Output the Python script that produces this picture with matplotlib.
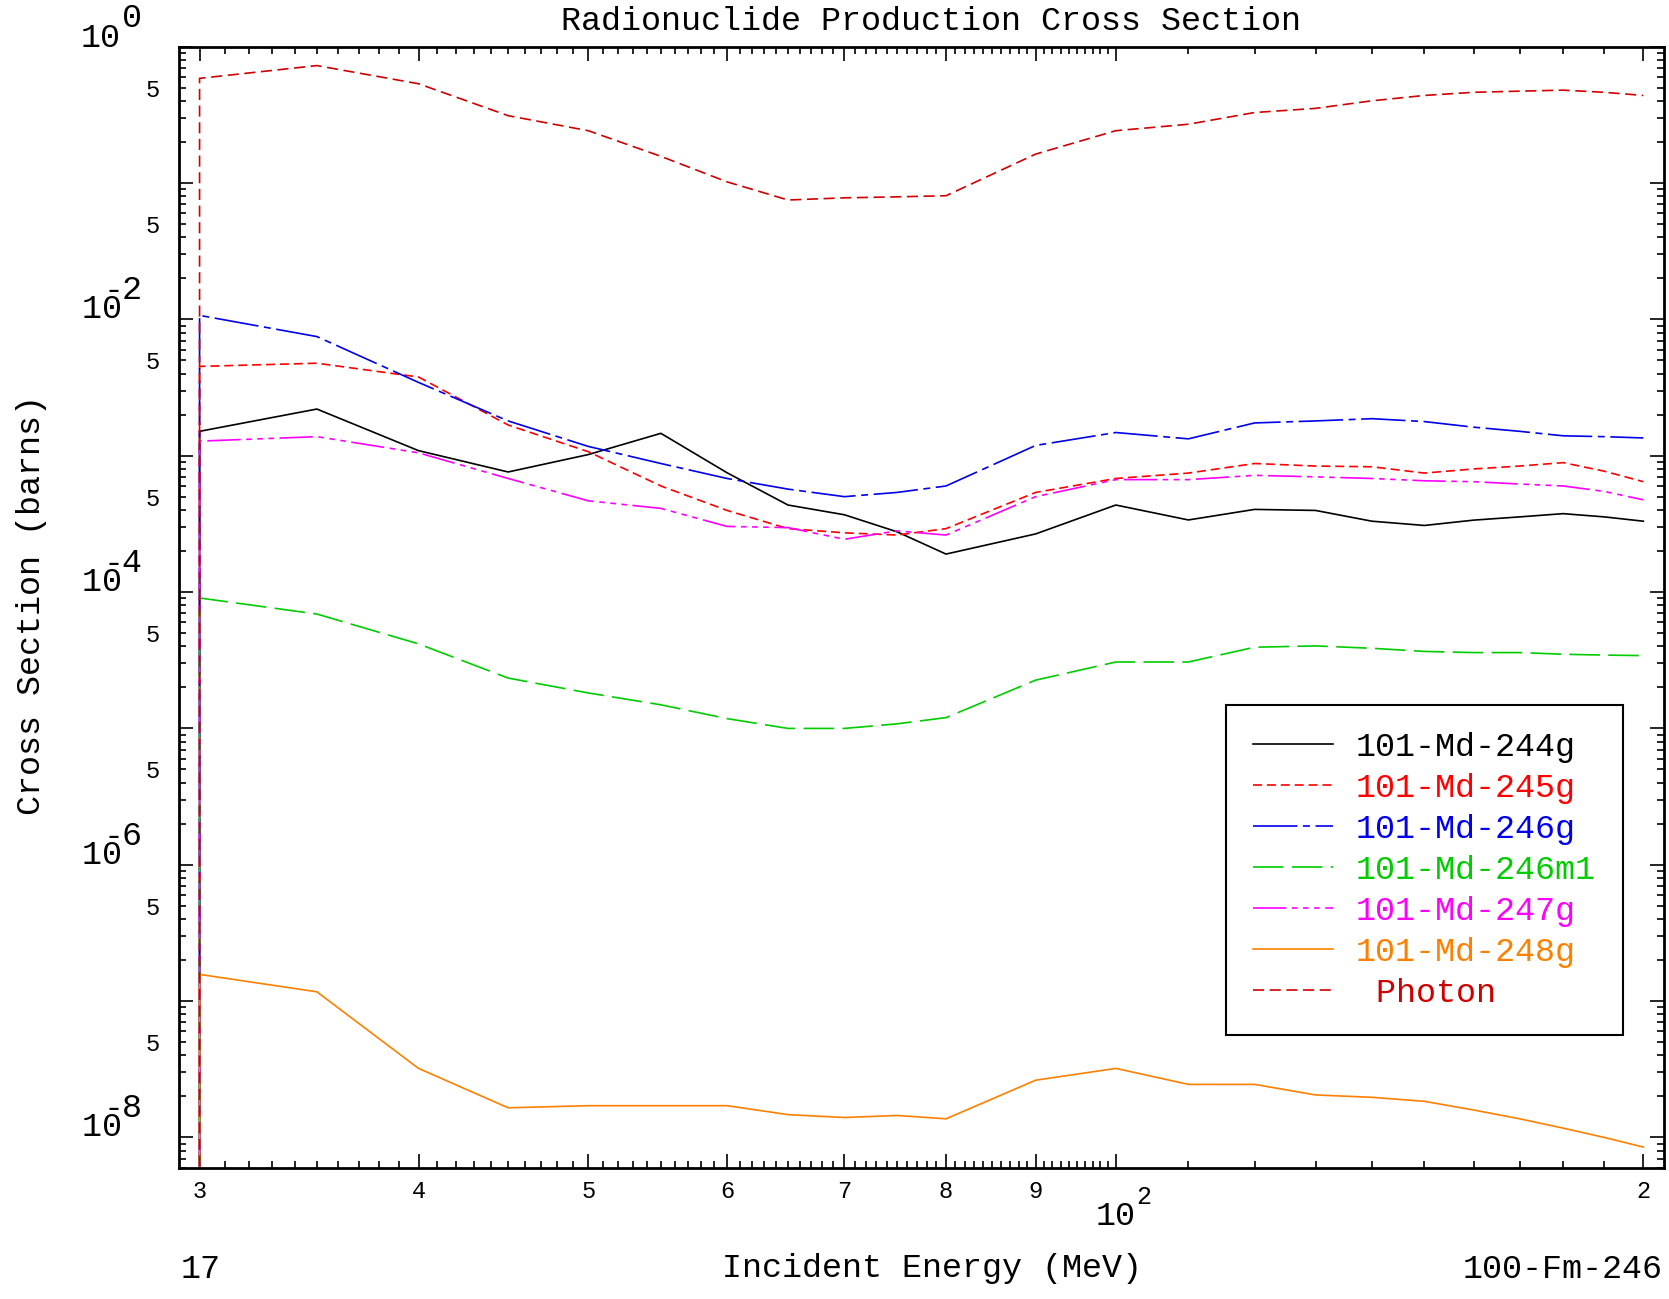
import matplotlib
matplotlib.use('Agg')
import numpy as np
import matplotlib.pyplot as plt
import matplotlib.transforms as mtransforms
from matplotlib.ticker import FixedLocator, NullFormatter, LogLocator, FuncFormatter

plt.rcParams['font.family'] = ['Liberation Mono', 'DejaVu Sans Mono']
plt.rcParams['lines.scale_dashes'] = False

# energias (MeV) y umbral de la reaccion
umbral = 30.0
umbral_xs = 1e-12
energia = [30, 35, 40, 45, 50, 55, 60, 65, 70, 75, 80, 90, 100,
           110, 120, 130, 140, 150, 160, 170, 180, 190, 200]

md244g = [1.51e-3, 2.20e-3, 1.09e-3, 7.6e-4, 1.02e-3, 1.46e-3, 7.5e-4, 4.35e-4,
          3.69e-4, 2.77e-4, 1.90e-4, 2.67e-4, 4.35e-4, 3.38e-4, 4.04e-4, 3.97e-4,
          3.31e-4, 3.08e-4, 3.37e-4, 3.56e-4, 3.76e-4, 3.56e-4, 3.31e-4]
md245g = [4.52e-3, 4.77e-3, 3.78e-3, 1.68e-3, 1.07e-3, 6.0e-4, 3.97e-4, 2.92e-4,
          2.72e-4, 2.62e-4, 2.92e-4, 5.38e-4, 6.81e-4, 7.46e-4, 8.77e-4, 8.4e-4,
          8.3e-4, 7.46e-4, 8.0e-4, 8.4e-4, 8.9e-4, 7.7e-4, 6.45e-4]
md246g = [1.07e-2, 7.48e-3, 3.45e-3, 1.80e-3, 1.17e-3, 8.77e-4, 6.81e-4, 5.69e-4,
          5.01e-4, 5.38e-4, 6.0e-4, 1.19e-3, 1.48e-3, 1.33e-3, 1.74e-3, 1.80e-3,
          1.87e-3, 1.78e-3, 1.62e-3, 1.51e-3, 1.40e-3, 1.38e-3, 1.35e-3]
md246m1 = [9.05e-5, 6.9e-5, 4.17e-5, 2.34e-5, 1.82e-5, 1.49e-5, 1.18e-5, 1.00e-5,
           1.00e-5, 1.08e-5, 1.20e-5, 2.26e-5, 3.07e-5, 3.07e-5, 3.94e-5, 4.03e-5,
           3.87e-5, 3.67e-5, 3.6e-5, 3.6e-5, 3.5e-5, 3.45e-5, 3.42e-5]
md247g = [1.28e-3, 1.38e-3, 1.05e-3, 6.81e-4, 4.67e-4, 4.11e-4, 3.03e-4, 2.97e-4,
          2.44e-4, 2.81e-4, 2.62e-4, 5.01e-4, 6.68e-4, 6.68e-4, 7.18e-4, 7.0e-4,
          6.81e-4, 6.55e-4, 6.45e-4, 6.2e-4, 6.0e-4, 5.47e-4, 4.75e-4]
md248g = [1.57e-7, 1.17e-7, 3.21e-8, 1.65e-8, 1.71e-8, 1.71e-8, 1.71e-8, 1.47e-8,
          1.40e-8, 1.45e-8, 1.37e-8, 2.63e-8, 3.21e-8, 2.45e-8, 2.45e-8, 2.05e-8,
          1.97e-8, 1.84e-8, 1.59e-8, 1.37e-8, 1.17e-8, 1.0e-8, 8.5e-9]
foton = [0.586, 0.727, 0.535, 0.312, 0.242, 0.157, 0.102, 0.0751, 0.0779, 0.0792,
         0.0807, 0.163, 0.242, 0.270, 0.329, 0.353, 0.401, 0.439, 0.463, 0.472,
         0.480, 0.463, 0.439]

series = [
    ('101-Md-244g', md244g, 'black', '-'),
    ('101-Md-245g', md245g, '#ff0000', (0, (6.5, 3.5))),
    ('101-Md-246g', md246g, '#0000ee', (0, (32, 4, 5, 4))),
    ('101-Md-246m1', md246m1, '#00cc00', (0, (22, 6))),
    ('101-Md-247g', md247g, '#ff00ff', (0, (24, 4, 4, 4, 4, 4, 4, 4))),
    ('101-Md-248g', md248g, '#ff8000', '-'),
    (' Photon', foton, '#d00000', (0, (8, 4))),
]

W, H = 1669, 1299
fig = plt.figure(figsize=(W / 100, H / 100), dpi=100)
x0, x1, ytop, ybot = 179, 1664, 46.7, 1167.7
ax = fig.add_axes([x0 / W, 1 - ybot / H, (x1 - x0) / W, (ybot - ytop) / H])
ax.set_xscale('log')
ax.set_yscale('log')

for nombre, valores, color, estilo in series:
    xs = [umbral] + energia
    ys = [umbral_xs] + valores
    ax.plot(xs, ys, color=color, linestyle=estilo, lw=1.2, label=nombre)

ymin, ymax = 6e-9, 1.0
ax.set_xlim(29.2, 205.5)
ax.set_ylim(ymin, ymax)

# eje x
ticks_x = [30, 40, 50, 60, 70, 80, 90, 100, 200]
etiquetas_x = ['3', '4', '5', '6', '7', '8', '9', '', '2']
menores_x = [v for v in range(31, 100) if v % 10 != 0] + list(range(110, 200, 10))
ax.xaxis.set_major_locator(FixedLocator(ticks_x))
ax.xaxis.set_minor_locator(FixedLocator(menores_x))
ax.set_xticklabels(etiquetas_x)
ax.xaxis.set_minor_formatter(NullFormatter())

# eje y
ax.yaxis.set_major_locator(LogLocator(base=10, numticks=20))
ax.yaxis.set_minor_locator(LogLocator(base=10, subs=np.arange(2, 10), numticks=20))
ax.yaxis.set_major_formatter(NullFormatter())

def etiqueta_cinco(v, pos):
    if v < ymin or v > ymax:
        return ''
    m = v / 10 ** np.floor(np.log10(v) + 1e-9)
    return '5' if abs(m - 5) < 0.05 else ''

ax.yaxis.set_minor_formatter(FuncFormatter(etiqueta_cinco))

ax.tick_params(which='both', direction='in', top=True, right=True, width=1.2)
ax.tick_params(which='major', length=10)
ax.tick_params(which='minor', length=5)
ax.tick_params(axis='x', which='major', labelsize=17, pad=9)
ax.tick_params(axis='y', which='minor', labelsize=17, pad=14)
for s in ax.spines.values():
    s.set_linewidth(2)

# etiquetas de decadas: "10" (con barra si el exponente es negativo) y exponente grande
px = 0.72  # puntos por pixel a 100 dpi
trans = mtransforms.blended_transform_factory(ax.transAxes, ax.transData)
trans_exp = mtransforms.offset_copy(trans, fig=fig, x=0, y=20 * px, units='points')
for k in [0, -2, -4, -6, -8]:
    base = r'$\mathregular{1\bar{0}}$' if k < 0 else '10'
    ax.text(-0.066, 10.0 ** k, base, transform=trans, ha='left',
            va='baseline', fontsize=24)
    ax.text(-0.0385, 10.0 ** k, str(abs(k)), transform=trans_exp, ha='left',
            va='baseline', fontsize=24)

transx = mtransforms.blended_transform_factory(ax.transData, fig.transFigure)
ax.text(100, 1 - 1225 / H, '10', transform=transx, ha='center',
        va='baseline', fontsize=24)
transx2 = mtransforms.offset_copy(transx, fig=fig, x=20 * px, y=0, units='points')
ax.text(100, 1 - 1204 / H, '2', transform=transx2, ha='left',
        va='baseline', fontsize=18)

fig.text(931 / W, 1 - 22 / H, 'Radionuclide Production Cross Section',
         ha='center', va='center', fontsize=24)
fig.text(932 / W, 1 - 1269 / H, 'Incident Energy (MeV)', ha='center',
         va='center', fontsize=24)
fig.text(181 / W, 1 - 1269 / H, '17', ha='left', va='center', fontsize=24)
fig.text(1663 / W, 1 - 1269 / H, '100-Fm-246', ha='right', va='center', fontsize=24)
fig.text(32 / W, 1 - 605 / H, 'Cross Section (barns)', ha='center', va='center',
         rotation=90, fontsize=24)

leg = ax.legend(loc='upper left', bbox_to_anchor=(1226 / W, 1 - 705 / H),
                bbox_transform=fig.transFigure, borderaxespad=0, fontsize=24,
                labelcolor='linecolor', handlelength=2.4, handletextpad=0.7,
                labelspacing=0.3, borderpad=0.8, fancybox=False, framealpha=1,
                edgecolor='black')
leg.get_frame().set_linewidth(1.5)

plt.savefig('out.png', dpi=100)
